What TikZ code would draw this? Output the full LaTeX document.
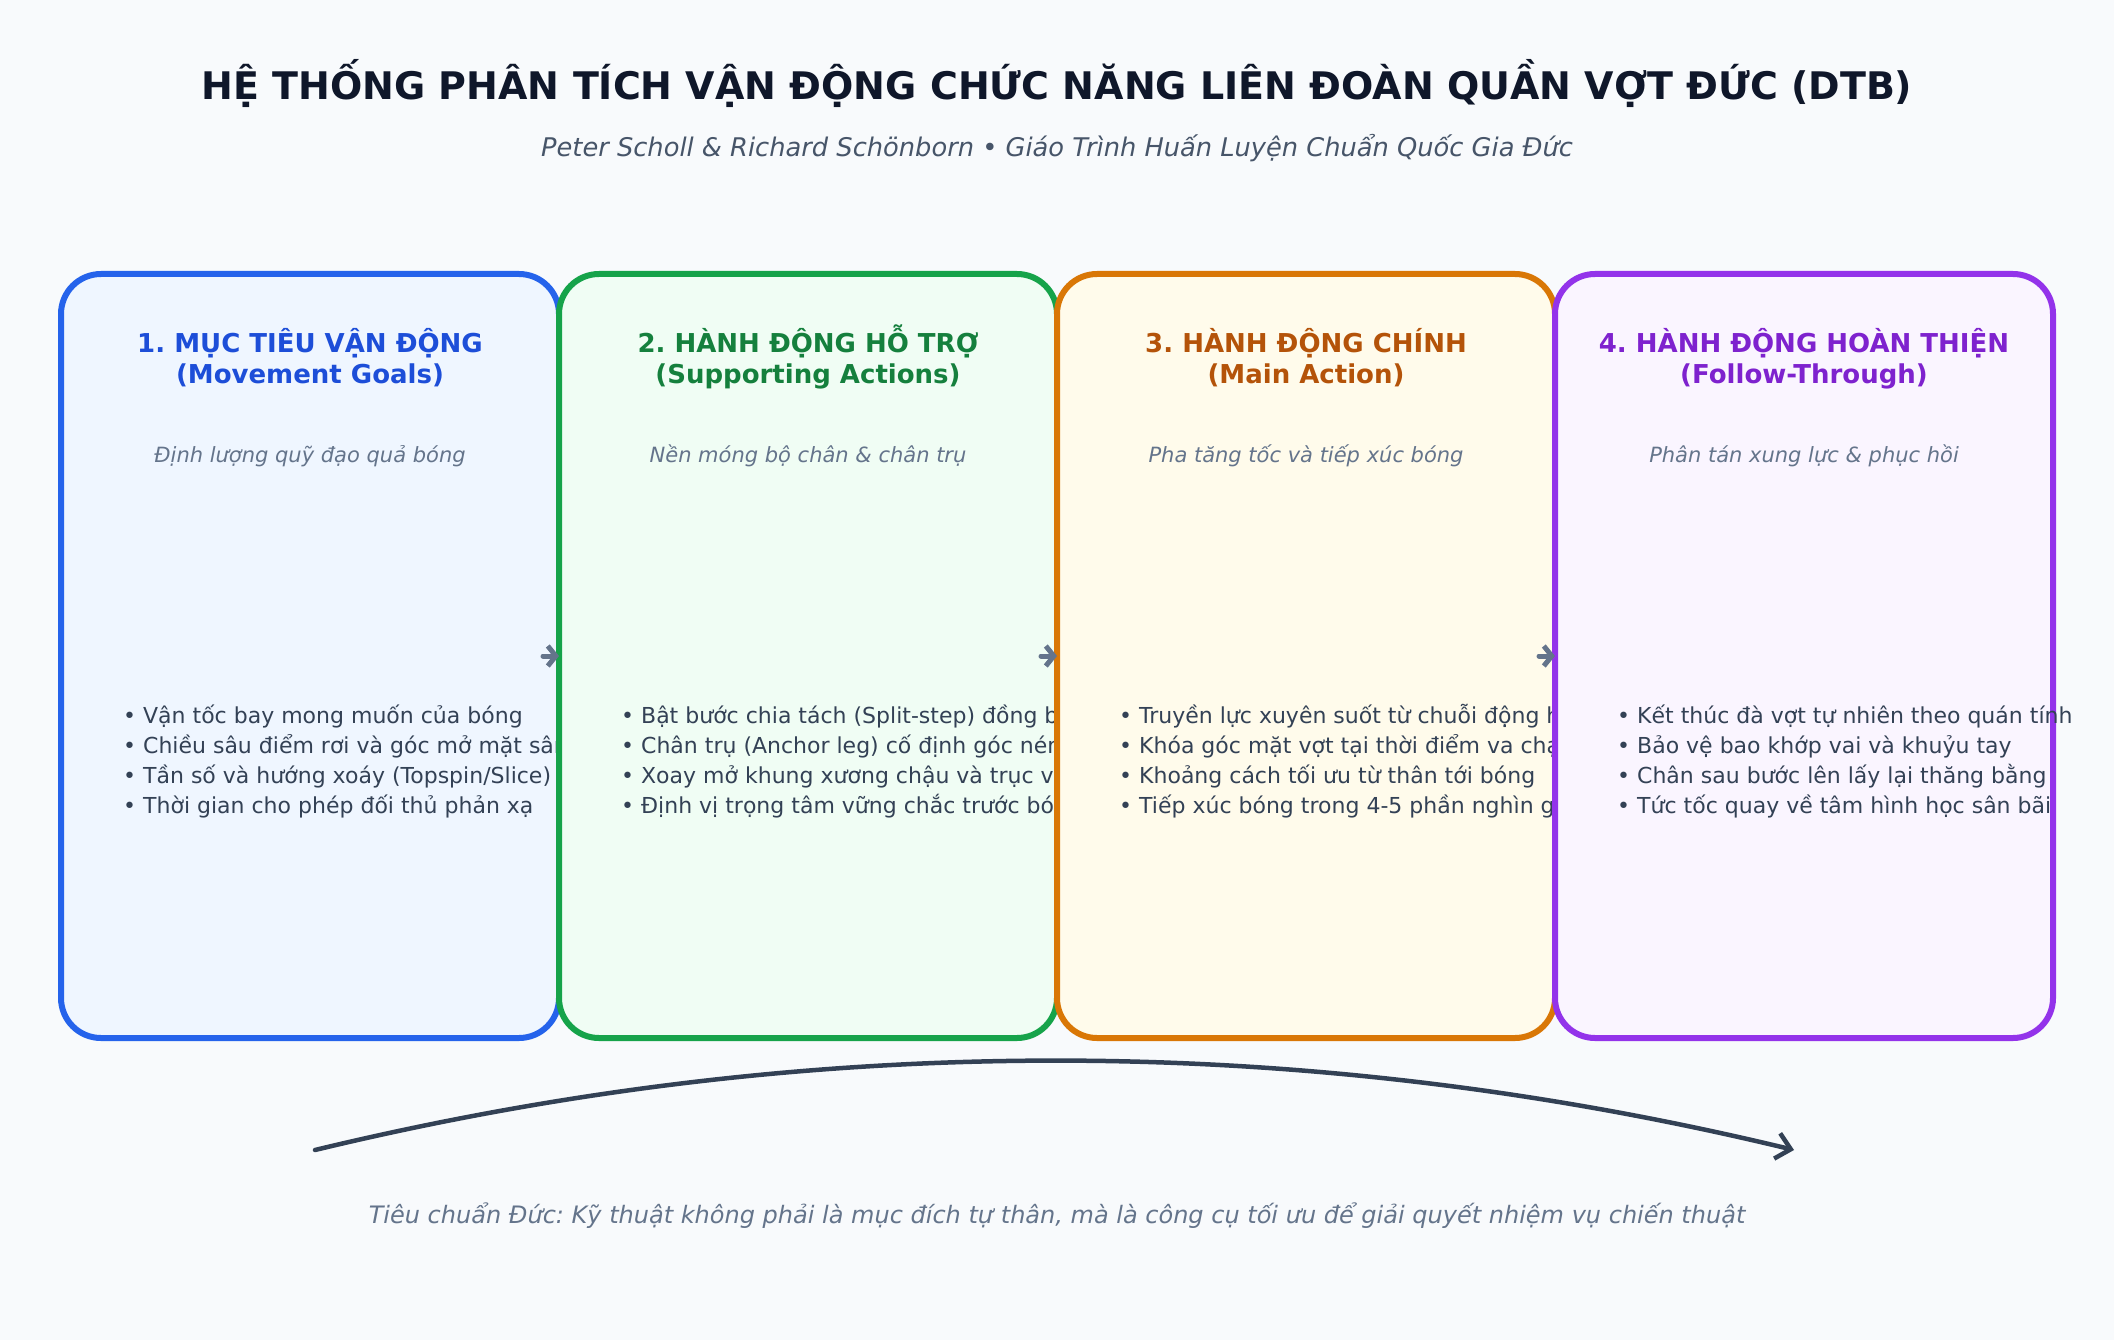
\documentclass[tikz,border=0pt]{standalone}
\usepackage{fontspec}
\setmainfont{DejaVu Sans}
\usepackage{xcolor}
\usetikzlibrary{arrows.meta}
\frenchspacing

\definecolor{pagebg}{HTML}{F8FAFC}
\definecolor{ink}{HTML}{0F172A}
\definecolor{slate}{HTML}{475569}
\definecolor{muted}{HTML}{64748B}
\definecolor{body}{HTML}{334155}
\definecolor{goalline}{HTML}{2563EB}
\definecolor{goalfill}{HTML}{EFF6FF}
\definecolor{goaltext}{HTML}{1D4ED8}
\definecolor{suppline}{HTML}{16A34A}
\definecolor{suppfill}{HTML}{F0FDF4}
\definecolor{supptext}{HTML}{15803D}
\definecolor{mainline}{HTML}{D97706}
\definecolor{mainfill}{HTML}{FFFBEB}
\definecolor{maintext}{HTML}{B45309}
\definecolor{followline}{HTML}{9333EA}
\definecolor{followfill}{HTML}{FAF5FF}
\definecolor{followtext}{HTML}{7E22CE}

\tikzset{
  card/.style={draw, line width=6pt, rounded corners=40pt, minimum width=498pt,
    minimum height=764pt, inner sep=0pt, outer sep=0pt, anchor=north west},
  cardtitle/.style={font=\fontsize{26}{30}\selectfont\bfseries, anchor=base, inner sep=0pt},
  cardsub/.style={font=\fontsize{21}{24}\selectfont\itshape, text=muted, anchor=base, inner sep=0pt},
  item/.style={font=\fontsize{22}{30}\selectfont, text=body, anchor=base west, inner sep=0pt},
  flow/.style={draw=muted, line width=5pt, line cap=round,
    -{Straight Barb[length=8pt, width=20pt]}},
  sweep/.style={draw=body, line width=4.5pt, line cap=round,
    -{Straight Barb[length=14pt, width=26pt]}},
}

\begin{document}
\begin{tikzpicture}[x=1pt, y=-1pt]
    \useasboundingbox (0,0) rectangle (2114,1340);
    \fill[pagebg] (0,0) rectangle (2114,1340);

    % Heading
    \node[font=\fontsize{38}{44}\selectfont\bfseries, text=ink, anchor=base, inner sep=0pt] (title) at (1057,100)
        {HỆ THỐNG PHÂN TÍCH VẬN ĐỘNG CHỨC NĂNG LIÊN ĐOÀN QUẦN VỢT ĐỨC (DTB)};
    \node[font=\fontsize{25.7}{30}\selectfont\itshape, text=slate, anchor=base, inner sep=0pt] (authors) at (1057,157)
        {Peter Scholl \& Richard Schönborn • Giáo Trình Huấn Luyện Chuẩn Quốc Gia Đức};

    % Movement goals
    \node[card, draw=goalline, fill=goalfill] (c1) at (61,274) {};
    \node[cardtitle, text=goaltext] (h1) at (310,352) {1. MỤC TIÊU VẬN ĐỘNG};
    \node[cardtitle, text=goaltext] (e1) at (310,383) {(Movement Goals)};
    \node[cardsub] (s1) at (310,462) {Định lượng quỹ đạo quả bóng};
    \node[item] (g1) at (123,723) {• Vận tốc bay mong muốn của bóng};
    \node[item] (g2) at (123,753) {• Chiều sâu điểm rơi và góc mở mặt sân};
    \node[item] (g3) at (123,783) {• Tần số và hướng xoáy (Topspin/Slice)};
    \node[item] (g4) at (123,813) {• Thời gian cho phép đối thủ phản xạ};

    % Supporting actions
    \node[card, draw=suppline, fill=suppfill] (c2) at (559,274) {};
    \node[cardtitle, text=supptext] (h2) at (808,352) {2. HÀNH ĐỘNG HỖ TRỢ};
    \node[cardtitle, text=supptext] (e2) at (808,383) {(Supporting Actions)};
    \node[cardsub] (s2) at (808,462) {Nền móng bộ chân \& chân trụ};
    \node[item] (p1) at (621,723) {• Bật bước chia tách (Split-step) đồng bộ};
    \node[item] (p2) at (621,753) {• Chân trụ (Anchor leg) cố định góc nén};
    \node[item] (p3) at (621,783) {• Xoay mở khung xương chậu và trục vai};
    \node[item] (p4) at (621,813) {• Định vị trọng tâm vững chắc trước bóng};

    % Main action
    \node[card, draw=mainline, fill=mainfill] (c3) at (1057,274) {};
    \node[cardtitle, text=maintext] (h3) at (1306,352) {3. HÀNH ĐỘNG CHÍNH};
    \node[cardtitle, text=maintext] (e3) at (1306,383) {(Main Action)};
    \node[cardsub] (s3) at (1306,462) {Pha tăng tốc và tiếp xúc bóng};
    \node[item] (m1) at (1119,723) {• Truyền lực xuyên suốt từ chuỗi động học};
    \node[item] (m2) at (1119,753) {• Khóa góc mặt vợt tại thời điểm va chạm};
    \node[item] (m3) at (1119,783) {• Khoảng cách tối ưu từ thân tới bóng};
    \node[item] (m4) at (1119,813) {• Tiếp xúc bóng trong 4-5 phần nghìn giây};

    % Follow-through
    \node[card, draw=followline, fill=followfill] (c4) at (1555,274) {};
    \node[cardtitle, text=followtext] (h4) at (1804,352) {4. HÀNH ĐỘNG HOÀN THIỆN};
    \node[cardtitle, text=followtext] (e4) at (1804,383) {(Follow-Through)};
    \node[cardsub] (s4) at (1804,462) {Phân tán xung lực \& phục hồi};
    \node[item] (f1) at (1617,723) {• Kết thúc đà vợt tự nhiên theo quán tính};
    \node[item] (f2) at (1617,753) {• Bảo vệ bao khớp vai và khuỷu tay};
    \node[item] (f3) at (1617,783) {• Chân sau bước lên lấy lại thăng bằng};
    \node[item] (f4) at (1617,813) {• Tức tốc quay về tâm hình học sân bãi};

    % Phase arrows
    \draw[flow] ([xshift=-16pt]c1.east) -- (c2.west);
    \draw[flow] ([xshift=-16pt]c2.east) -- (c3.west);
    \draw[flow] ([xshift=-16pt]c3.east) -- (c4.west);

    % Overall sweep
    \coordinate (arcstart) at (315,1150);
    \coordinate (arcend) at (1794,1150);
    \draw[sweep] (arcstart) .. controls (808,1031) and (1301,1031) .. (arcend);

    \node[font=\fontsize{24}{28}\selectfont\itshape, text=muted, anchor=base, inner sep=0pt] (motto) at (1057,1223)
        {Tiêu chuẩn Đức: Kỹ thuật không phải là mục đích tự thân, mà là công cụ tối ưu để giải quyết nhiệm vụ chiến thuật};
\end{tikzpicture}
\end{document}
